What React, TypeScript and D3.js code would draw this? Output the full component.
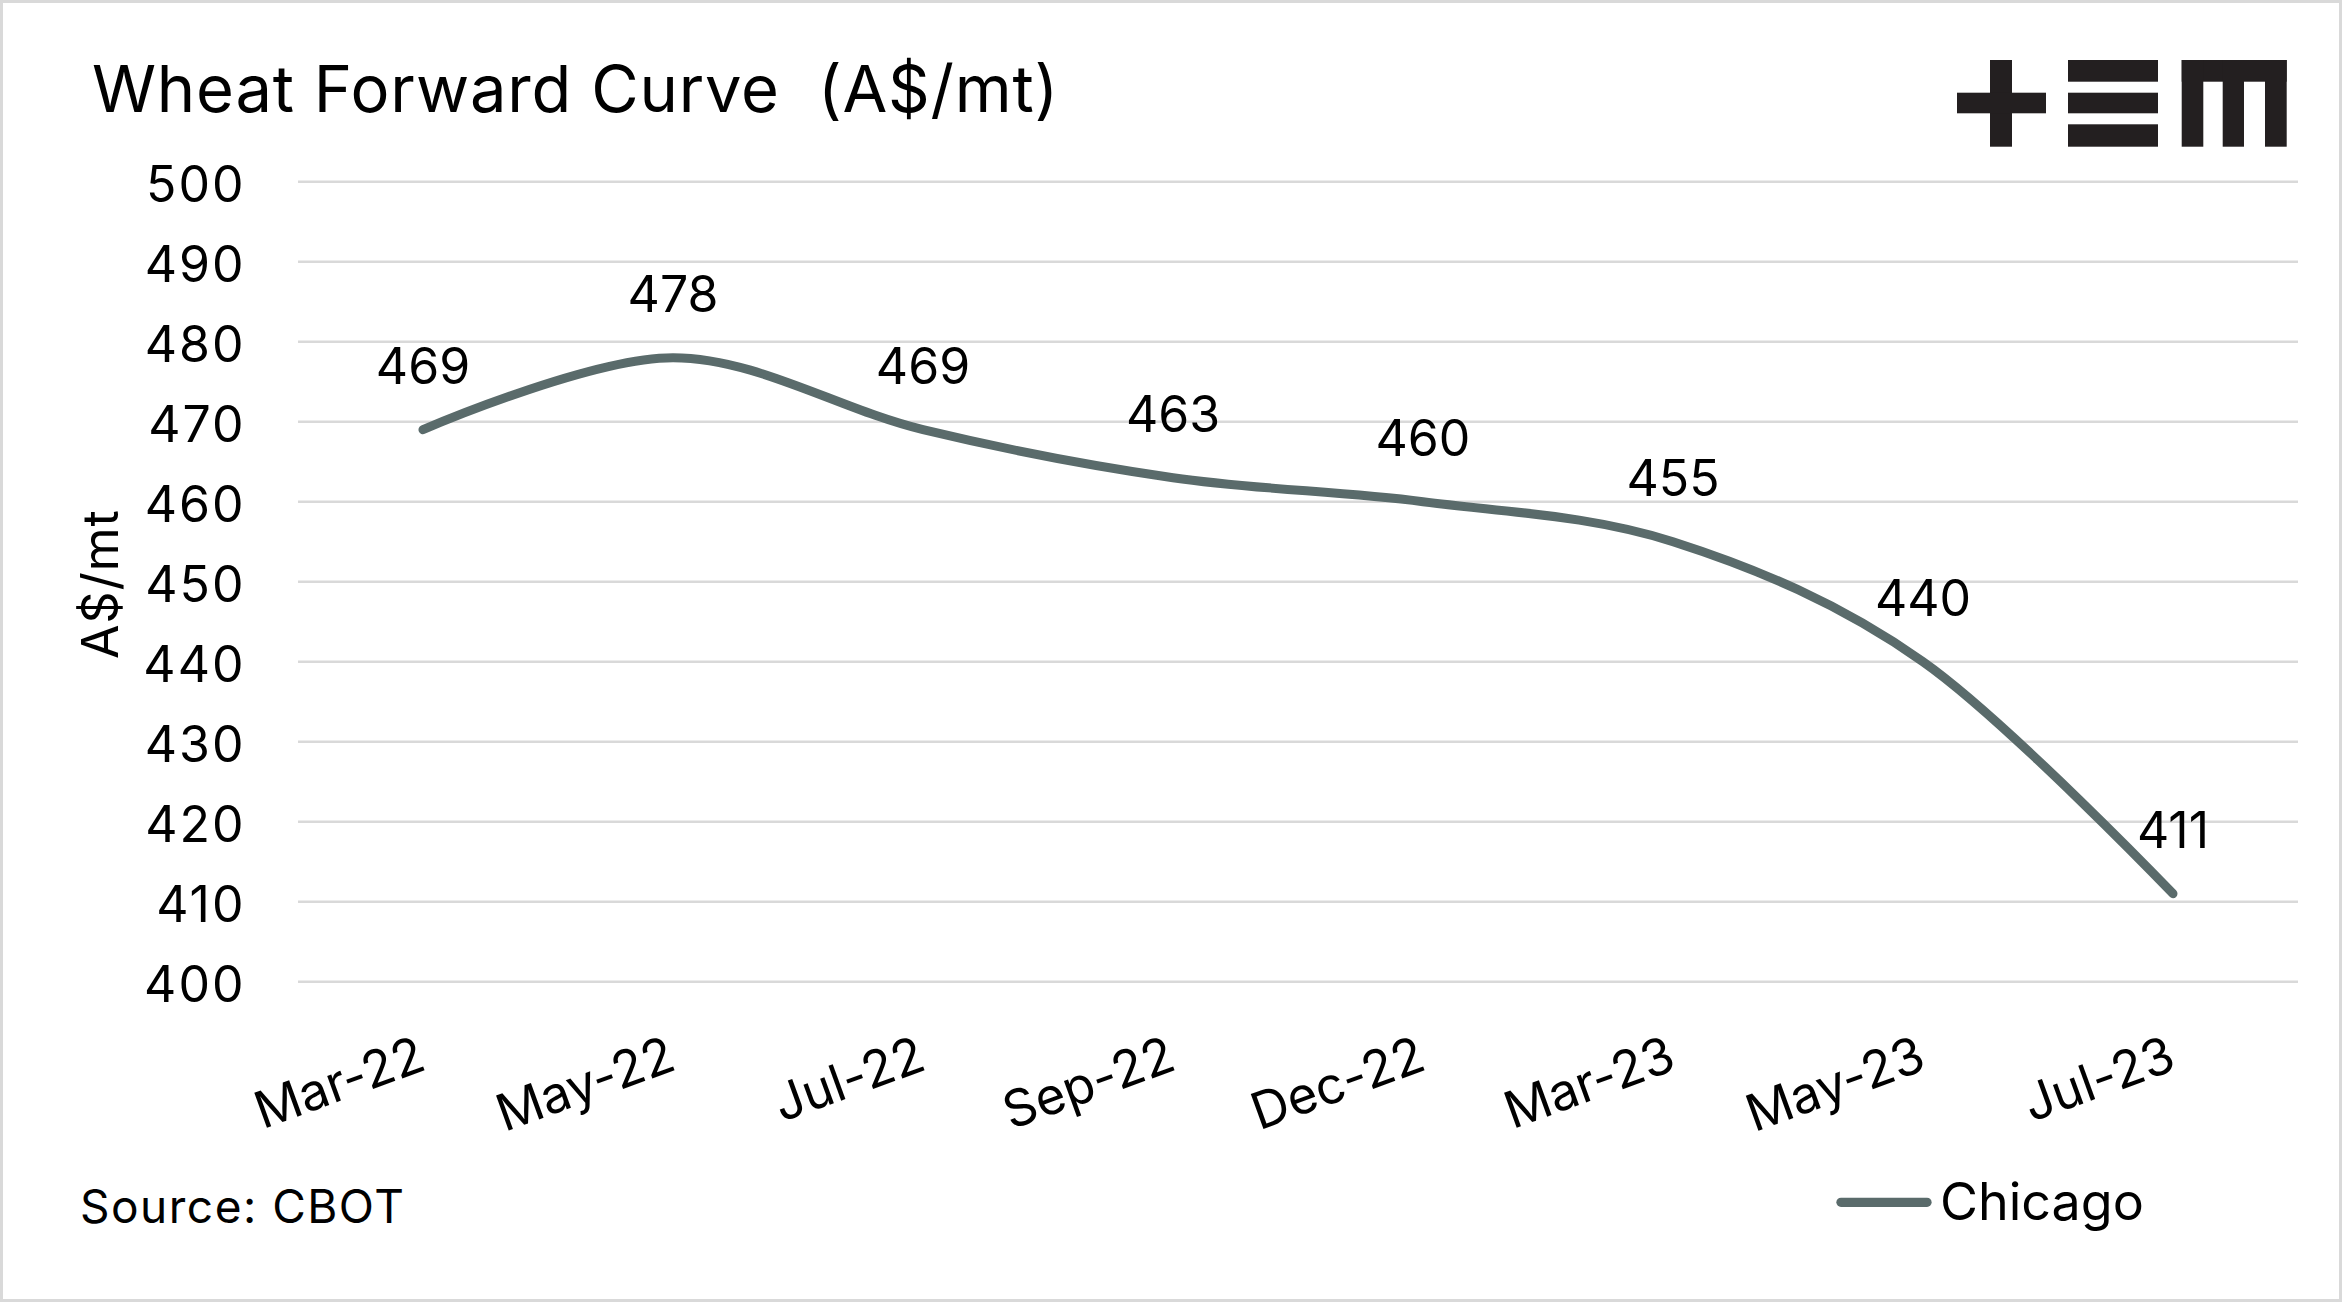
import React from "react";
import * as d3 from "d3";

const categories = ["Mar-22", "May-22", "Jul-22", "Sep-22", "Dec-22", "Mar-23", "May-23", "Jul-23"];
const chicagoValues = [469, 478, 469, 463, 460, 455, 440, 411];
const yTicks = [400, 410, 420, 430, 440, 450, 460, 470, 480, 490, 500];
const seriesName = "Chicago";
const titleText = "Wheat Forward Curve  (A$/mt)";
const yAxisTitle = "A$/mt";
const sourceText = "Source: CBOT";

const W = 2342;
const H = 1302;
const FONT = "Inter, 'Liberation Sans', Arial, sans-serif";
const LINE_COLOR = "#5a6b6b";
const GRID_COLOR = "#d9d9d9";

export default function App() {
  const x = d3.scaleBand<string>().domain(categories).range([298, 2298]).padding(0);
  const y = d3.scaleLinear().domain([400, 500]).range([981.7, 181.7]);
  const cx = (c: string) => (x(c) as number) + x.bandwidth() / 2;

  const pts = categories.map((c, i) => [cx(c), y(chicagoValues[i])] as [number, number]);
  const line = d3.line<[number, number]>().curve(d3.curveCardinal.tension(0));
  const pathD = line(pts) || "";

  return (
    <svg
      width={W}
      height={H}
      viewBox={`0 0 ${W} ${H}`}
      style={{ position: "fixed", left: 0, top: 0, background: "#fff" }}
      fontFamily={FONT}
    >
      <rect x={0} y={0} width={W} height={H} fill="#fff" />
      <rect x={1.5} y={1.5} width={W - 3} height={H - 3} fill="none" stroke={GRID_COLOR} strokeWidth={3} />

      {/* Title */}
      <text x={92} y={112} fontSize={65} letterSpacing={0.8} fill="#000" style={{ whiteSpace: "pre" }}>
        {titleText}
      </text>

      {/* Logo */}
      <g fill="#231f20">
        <rect x={1990} y={60} width={22} height={86.7} />
        <rect x={1957} y={92.7} width={89} height={20.6} />
        <rect x={2068} y={60} width={90} height={21.7} />
        <rect x={2068} y={92.7} width={90} height={20.6} />
        <rect x={2068} y={124.3} width={90} height={22.4} />
        <rect x={2181.7} y={60} width={105} height={21.7} />
        <rect x={2181.7} y={60} width={21.6} height={86.7} />
        <rect x={2222.7} y={60} width={21.3} height={86.7} />
        <rect x={2265} y={60} width={21.7} height={86.7} />
      </g>

      {/* Gridlines */}
      {yTicks.map((t) => (
        <line key={"g" + t} x1={298} x2={2298} y1={y(t)} y2={y(t)} stroke={GRID_COLOR} strokeWidth={2.5} />
      ))}

      {/* Y tick labels */}
      {yTicks.map((t) => (
        <text key={"yt" + t} x={245.5} y={y(t) + 2} fontSize={50} letterSpacing={2} textAnchor="end" dominantBaseline="central" fill="#000">
          {t}
        </text>
      ))}

      {/* Y axis title */}
      <text
        transform={`translate(118, 584) rotate(-90)`}
        fontSize={50}
        letterSpacing={1}
        textAnchor="middle"
        fill="#000"
      >
        {yAxisTitle}
      </text>

      {/* X labels */}
      {categories.map((c) => (
        <text
          key={"x" + c}
          transform={`translate(${cx(c) + 5}, 1069) rotate(-20)`}
          fontSize={51}
          textAnchor="end"
          fill="#000"
        >
          {c}
        </text>
      ))}

      {/* Line */}
      <path d={pathD} fill="none" stroke={LINE_COLOR} strokeWidth={9} strokeLinecap="round" strokeLinejoin="round" />

      {/* Data labels */}
      {categories.map((c, i) => (
        <text key={"dl" + c} x={cx(c)} y={y(chicagoValues[i]) - 46} fontSize={50} textAnchor="middle" fill="#000">
          {chicagoValues[i]}
        </text>
      ))}

      {/* Source */}
      <text x={80} y={1223} fontSize={46} letterSpacing={1.5} fill="#000">
        {sourceText}
      </text>

      {/* Legend */}
      <line x1={1841} x2={1927} y1={1202.3} y2={1202.3} stroke={LINE_COLOR} strokeWidth={9.3} strokeLinecap="round" />
      <text x={1940} y={1220} fontSize={52} fill="#000">
        {seriesName}
      </text>
    </svg>
  );
}
